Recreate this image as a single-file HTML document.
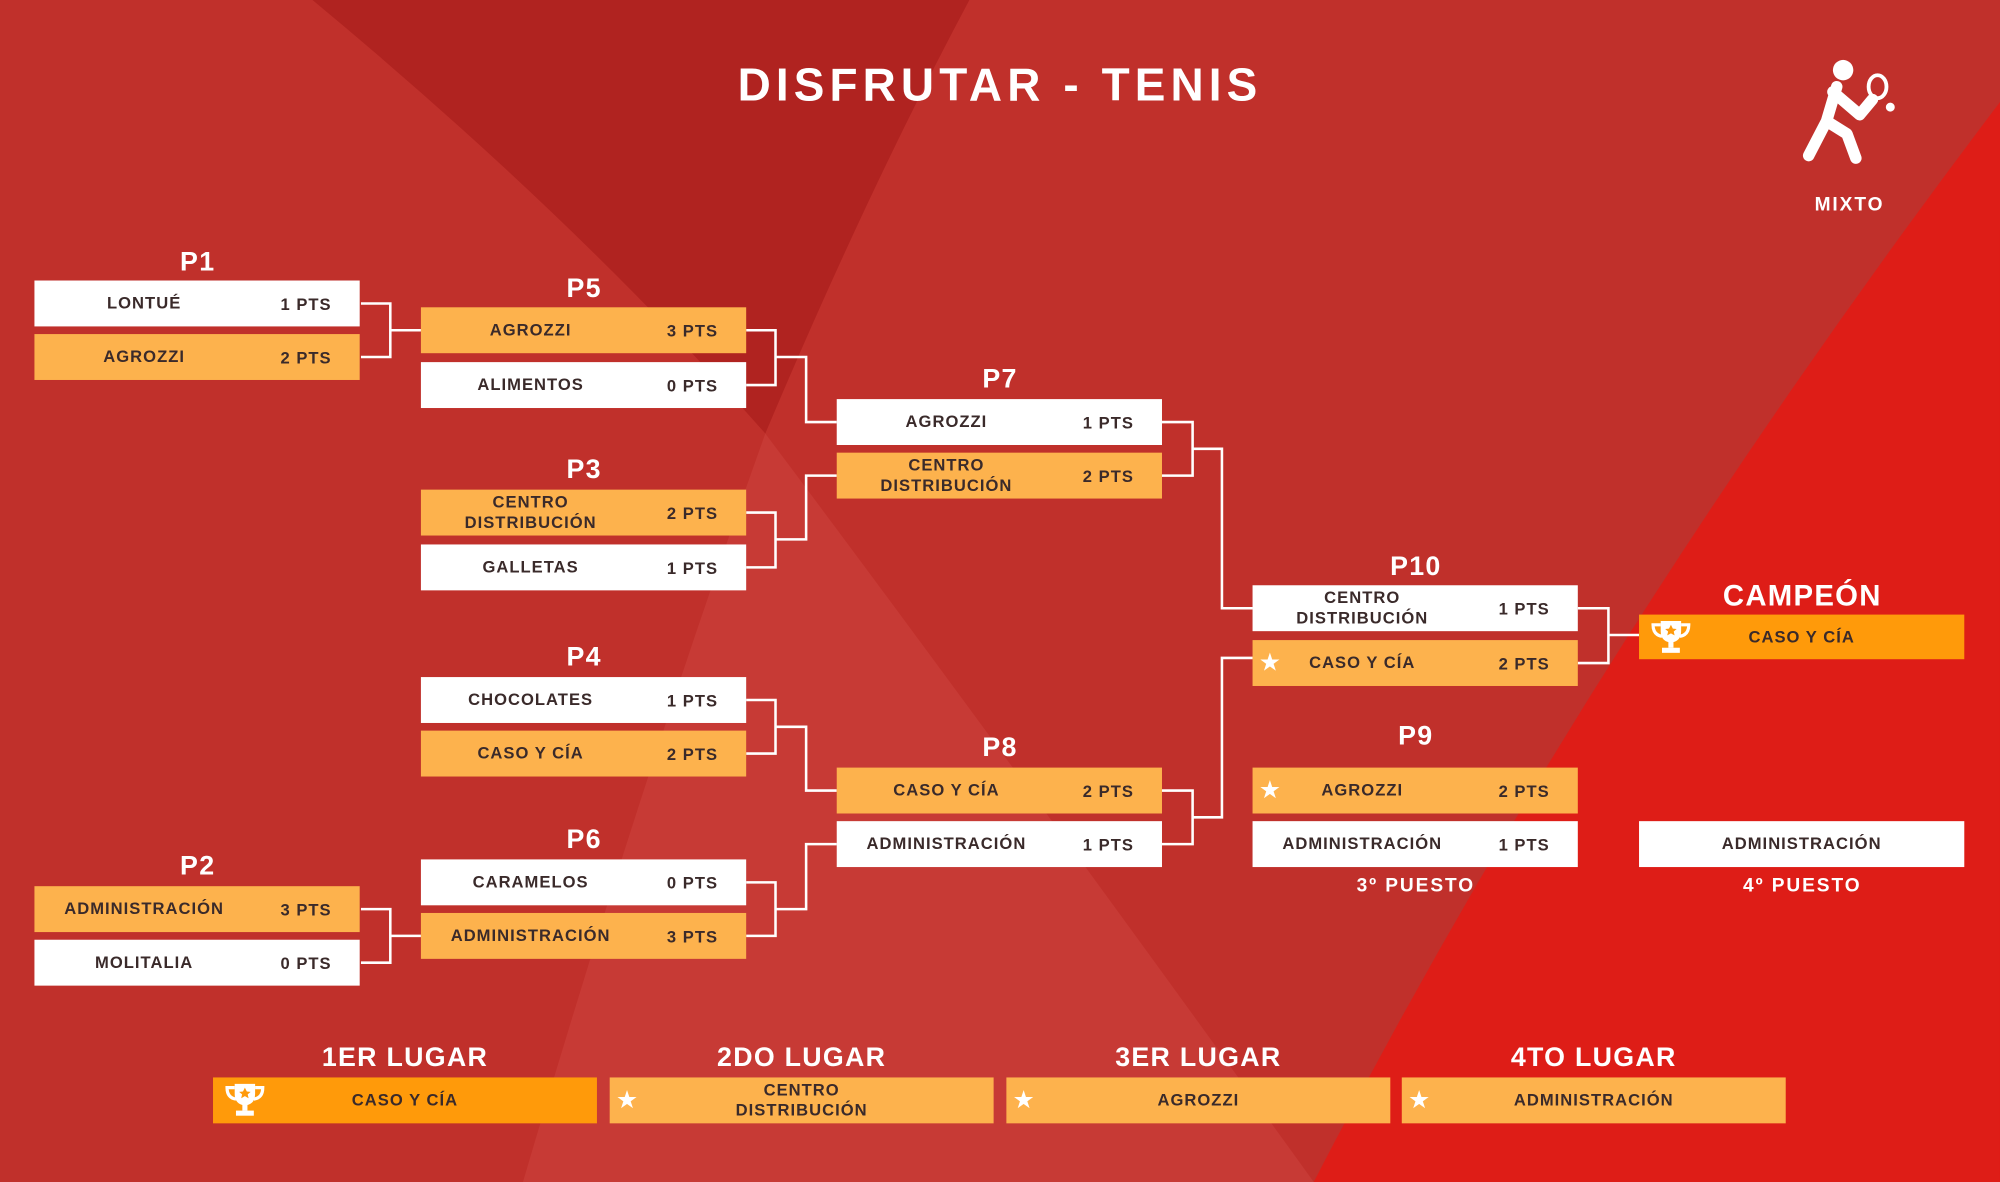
<!DOCTYPE html>
<html><head><meta charset="utf-8"><style>
html,body{margin:0;padding:0;width:2000px;height:1182px;overflow:hidden;background:#c0302b}
#s{position:absolute;left:0;top:0;width:1568px;height:927px;transform:scale(1.27551,1.27508);transform-origin:0 0;font-family:"Liberation Sans",sans-serif}
.b{position:absolute;height:36px;width:255px;box-sizing:border-box;font-weight:bold;font-size:13px;letter-spacing:.8px;color:#3a2a2a;display:flex;align-items:center}
.w{background:#fff}.o{background:#fdb24d}.c{background:#ff9a0a}
.b .n{position:absolute;left:0;width:172px;text-align:center;line-height:16px}
.b .p{position:absolute;right:22px}
.l{position:absolute;color:#fff;font-weight:bold;font-size:21px;letter-spacing:1px;text-align:center;width:256px}
.s{position:absolute;color:#fff;font-weight:bold;font-size:15px;letter-spacing:1.5px;text-align:center;width:256px}
.st{position:absolute;left:6px;color:#fff;font-size:17px}
.tr{position:absolute;left:8px;top:3px}
</style></head><body><div id="s">
<svg width="1568" height="927" style="position:absolute;left:0;top:0">
<rect width="1568" height="927" fill="#c0302b"/>
<path d="M245 0 L760 0 Q680 150 600 340 Q450 170 245 0Z" fill="#b02320"/>
<path d="M600 340 Q780 580 1030 927 L410 927 Q500 620 600 340Z" fill="#c73a35"/>
<path d="M1568 80 Q1250 500 1030 927 L1568 927Z" fill="#de1d17"/>
<g stroke="#fff" stroke-width="2" fill="none">
<path d="M283 238H306V280H283M306 259H330"/>
<path d="M283 713H306V755H283M306 734H330"/>
<path d="M585 259H608V302H585M608 280H632V331H656"/>
<path d="M585 402H608V445H585M608 423H632V373H656"/>
<path d="M585 549H608V591H585M608 570H632V620H656"/>
<path d="M585 692H608V734H585M608 713H632V662H656"/>
<path d="M911 331H935V373H911M935 352H958V477H982"/>
<path d="M911 620H935V662H911M935 641H958V516H982"/>
<path d="M1237 477H1261V520H1237M1261 498H1285"/>
</g>
<g fill="#fff" stroke="#fff" stroke-linecap="round" stroke-linejoin="round">
<circle cx="1445" cy="55" r="8" stroke="none"/>
<path d="M1440 68 L1432 95 L1418 122 M1432 95 L1448 105 L1455 124 M1437 72 L1458 90 L1468 78" stroke-width="9" fill="none"/>
<ellipse cx="1472" cy="68" rx="7" ry="9" fill="none" stroke-width="3"/>
<circle cx="1482" cy="84" r="3.5" stroke="none"/>
</g>
</svg>
<div class="l" style="left:0;width:1568px;top:46px;font-size:36px;letter-spacing:4px">DISFRUTAR - TENIS</div>
<div class="s" style="left:1322px;top:152px">MIXTO</div>

<div class="l" style="left:27px;top:194px">P1</div>
<div class="b w" style="left:27px;top:220px"><span class="n">LONTUÉ</span><span class="p">1 PTS</span></div>
<div class="b o" style="left:27px;top:262px"><span class="n">AGROZZI</span><span class="p">2 PTS</span></div>
<div class="l" style="left:27px;top:668px">P2</div>
<div class="b o" style="left:27px;top:695px"><span class="n">ADMINISTRACIÓN</span><span class="p">3 PTS</span></div>
<div class="b w" style="left:27px;top:737px"><span class="n">MOLITALIA</span><span class="p">0 PTS</span></div>

<div class="l" style="left:330px;top:215px">P5</div>
<div class="b o" style="left:330px;top:241px"><span class="n">AGROZZI</span><span class="p">3 PTS</span></div>
<div class="b w" style="left:330px;top:284px"><span class="n">ALIMENTOS</span><span class="p">0 PTS</span></div>
<div class="l" style="left:330px;top:357px">P3</div>
<div class="b o" style="left:330px;top:384px"><span class="n">CENTRO<br>DISTRIBUCIÓN</span><span class="p">2 PTS</span></div>
<div class="b w" style="left:330px;top:427px"><span class="n">GALLETAS</span><span class="p">1 PTS</span></div>
<div class="l" style="left:330px;top:504px">P4</div>
<div class="b w" style="left:330px;top:531px"><span class="n">CHOCOLATES</span><span class="p">1 PTS</span></div>
<div class="b o" style="left:330px;top:573px"><span class="n">CASO Y CÍA</span><span class="p">2 PTS</span></div>
<div class="l" style="left:330px;top:647px">P6</div>
<div class="b w" style="left:330px;top:674px"><span class="n">CARAMELOS</span><span class="p">0 PTS</span></div>
<div class="b o" style="left:330px;top:716px"><span class="n">ADMINISTRACIÓN</span><span class="p">3 PTS</span></div>

<div class="l" style="left:656px;top:286px">P7</div>
<div class="b w" style="left:656px;top:313px"><span class="n">AGROZZI</span><span class="p">1 PTS</span></div>
<div class="b o" style="left:656px;top:355px"><span class="n">CENTRO<br>DISTRIBUCIÓN</span><span class="p">2 PTS</span></div>
<div class="l" style="left:656px;top:575px">P8</div>
<div class="b o" style="left:656px;top:602px"><span class="n">CASO Y CÍA</span><span class="p">2 PTS</span></div>
<div class="b w" style="left:656px;top:644px"><span class="n">ADMINISTRACIÓN</span><span class="p">1 PTS</span></div>

<div class="l" style="left:982px;top:433px">P10</div>
<div class="b w" style="left:982px;top:459px"><span class="n">CENTRO<br>DISTRIBUCIÓN</span><span class="p">1 PTS</span></div>
<div class="b o" style="left:982px;top:502px"><span class="st">★</span><span class="n">CASO Y CÍA</span><span class="p">2 PTS</span></div>
<div class="l" style="left:982px;top:566px">P9</div>
<div class="b o" style="left:982px;top:602px"><span class="st">★</span><span class="n">AGROZZI</span><span class="p">2 PTS</span></div>
<div class="b w" style="left:982px;top:644px"><span class="n">ADMINISTRACIÓN</span><span class="p">1 PTS</span></div>
<div class="s" style="left:982px;top:686px">3º PUESTO</div>

<div class="l" style="left:1285px;top:454px;font-size:23px">CAMPEÓN</div>
<div class="b c" style="left:1285px;top:482px;height:35px"><svg class="tr" width="34" height="30" viewBox="0 0 34 30"><path d="M9 2H25V10Q25 18 17 19Q9 18 9 10Z" fill="#fff"/><path d="M9 5H3Q3 13 10 14M25 5H31Q31 13 24 14" stroke="#fff" stroke-width="2.5" fill="none"/><rect x="15" y="18" width="4" height="5" fill="#fff"/><rect x="10" y="23" width="14" height="4" fill="#fff"/><path d="M17 5l1.5 3 3 .3-2.3 2 .7 3-2.9-1.6-2.9 1.6.7-3-2.3-2 3-.3z" fill="#ff9a0a"/></svg><span class="n" style="width:255px">CASO Y CÍA</span></div>
<div class="b w" style="left:1285px;top:644px"><span class="n" style="width:255px">ADMINISTRACIÓN</span></div>
<div class="s" style="left:1285px;top:686px">4º PUESTO</div>

<div class="l" style="left:167px;width:301px;top:818px">1ER LUGAR</div>
<div class="b c" style="left:167px;top:845px;width:301px"><svg class="tr" width="34" height="30" viewBox="0 0 34 30"><path d="M9 2H25V10Q25 18 17 19Q9 18 9 10Z" fill="#fff"/><path d="M9 5H3Q3 13 10 14M25 5H31Q31 13 24 14" stroke="#fff" stroke-width="2.5" fill="none"/><rect x="15" y="18" width="4" height="5" fill="#fff"/><rect x="10" y="23" width="14" height="4" fill="#fff"/><path d="M17 5l1.5 3 3 .3-2.3 2 .7 3-2.9-1.6-2.9 1.6.7-3-2.3-2 3-.3z" fill="#ff9a0a"/></svg><span class="n" style="width:301px">CASO Y CÍA</span></div>
<div class="l" style="left:478px;width:301px;top:818px">2DO LUGAR</div>
<div class="b o" style="left:478px;top:845px;width:301px"><span class="st">★</span><span class="n" style="width:301px">CENTRO<br>DISTRIBUCIÓN</span></div>
<div class="l" style="left:789px;width:301px;top:818px">3ER LUGAR</div>
<div class="b o" style="left:789px;top:845px;width:301px"><span class="st">★</span><span class="n" style="width:301px">AGROZZI</span></div>
<div class="l" style="left:1099px;width:301px;top:818px">4TO LUGAR</div>
<div class="b o" style="left:1099px;top:845px;width:301px"><span class="st">★</span><span class="n" style="width:301px">ADMINISTRACIÓN</span></div>
</div></body></html>
